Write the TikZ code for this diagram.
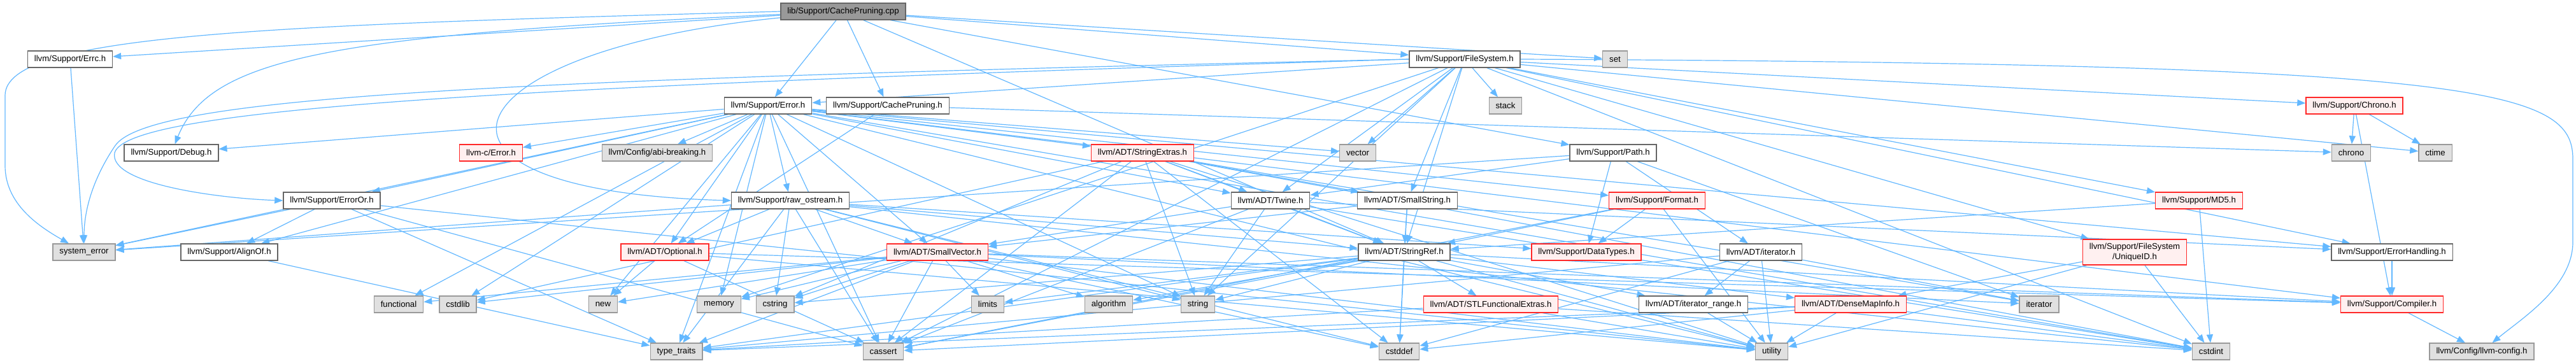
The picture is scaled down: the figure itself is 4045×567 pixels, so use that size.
\documentclass[tikz,border=0pt]{standalone}
\usepackage{fontspec}
\setmainfont{Liberation Sans}
\usepackage{tikz}
\usetikzlibrary{arrows.meta,backgrounds}
\definecolor{depblue}{RGB}{99,184,255}
\definecolor{boxline}{RGB}{102,102,102}
\definecolor{sysline}{RGB}{153,153,153}
\definecolor{sysfill}{RGB}{224,224,224}
\definecolor{redline}{RGB}{255,40,40}
\definecolor{redfill}{RGB}{255,240,240}
\definecolor{rootfill}{RGB}{153,153,153}

\begin{document}
\begin{tikzpicture}[x=0.5pt, y=-0.5pt,
    box/.style={draw=boxline, fill=white, line width=0.65pt, inner xsep=5.2pt,
                inner ysep=0pt, minimum height=13pt, font=\fontsize{6.6}{7.6}\selectfont},
    sysbox/.style={box, draw=sysline, fill=sysfill},
    redbox/.style={box, draw=redline, fill=redfill},
    rootbox/.style={box, fill=rootfill},
    dep/.style={draw=depblue, line width=0.6pt, -{Triangle[length=6.5pt,width=5pt]}}]
  \useasboundingbox (0,0) rectangle (4045,567);

  \node[rootbox] (cpp) at (1324,18) {lib/Support/CachePruning.cpp};

  \node[box] (errc) at (110,93) {llvm/Support/Errc.h};
  \node[box] (filesystem) at (2300,93) {llvm/Support/FileSystem.h};
  \node[sysbox] (set) at (2536,93) {set};

  \node[box] (error) at (1206,166) {llvm/Support/Error.h};
  \node[box] (cpruneh) at (1394,166) {llvm/Support/CachePruning.h};
  \node[sysbox] (stack) at (2364,166) {stack};
  \node[redbox] (chronoh) at (3697,166) {llvm/Support/Chrono.h};

  \node[box] (debug) at (269,240) {llvm/Support/Debug.h};
  \node[redbox] (cerror) at (771,240) {llvm-c/Error.h};
  \node[sysbox] (abibreak) at (1032,240) {llvm/Config/abi-breaking.h};
  \node[redbox] (strextras) at (1794,240) {llvm/ADT/StringExtras.h};
  \node[sysbox] (vector) at (2132,240) {vector};
  \node[box] (path) at (2533,240) {llvm/Support/Path.h};
  \node[sysbox] (chrono) at (3692,240) {chrono};
  \node[sysbox] (ctime) at (3824,240) {ctime};

  \node[box] (erroror) at (521,315) {llvm/Support/ErrorOr.h};
  \node[box] (rawos) at (1241,315) {llvm/Support/raw\_ostream.h};
  \node[box] (twine) at (1995,315) {llvm/ADT/Twine.h};
  \node[box] (smallstr) at (2210,315) {llvm/ADT/SmallString.h};
  \node[redbox] (format) at (2602,315) {llvm/Support/Format.h};
  \node[redbox] (md5) at (3453,315) {llvm/Support/MD5.h};

  \node[sysbox] (syserr) at (132,396) {system\_error};
  \node[box] (alignof) at (360,396) {llvm/Support/AlignOf.h};
  \node[redbox] (optional) at (1044,396) {llvm/ADT/Optional.h};
  \node[redbox] (smallvec) at (1472,396) {llvm/ADT/SmallVector.h};
  \node[box] (strref) at (2205,396) {llvm/ADT/StringRef.h};
  \node[redbox] (datatypes) at (2491,396) {llvm/Support/DataTypes.h};
  \node[box] (iteratorh) at (2765,396) {llvm/ADT/iterator.h};
  \node[redbox, align=center, minimum height=20pt] (uniqueid) at (3352,396) {llvm/Support/FileSystem\\/UniqueID.h};
  \node[box] (errhandling) at (3756,396) {llvm/Support/ErrorHandling.h};

  \node[sysbox] (functional) at (626,478) {functional};
  \node[sysbox] (cstdlib) at (719,478) {cstdlib};
  \node[sysbox] (new) at (947,478) {new};
  \node[sysbox] (memory) at (1129,478) {memory};
  \node[sysbox] (cstring) at (1217,478) {cstring};
  \node[sysbox] (limits) at (1551,478) {limits};
  \node[sysbox] (algorithm) at (1741,478) {algorithm};
  \node[sysbox] (string) at (1881,478) {string};
  \node[redbox] (stlfunc) at (2341,478) {llvm/ADT/STLFunctionalExtras.h};
  \node[box] (iterrange) at (2659,478) {llvm/ADT/iterator\_range.h};
  \node[redbox] (densemap) at (2906,478) {llvm/ADT/DenseMapInfo.h};
  \node[sysbox] (iterator) at (3202,478) {iterator};
  \node[redbox] (compiler) at (3756,478) {llvm/Support/Compiler.h};

  \node[sysbox] (typetraits) at (1062,552) {type\_traits};
  \node[sysbox] (cassert) at (1387,552) {cassert};
  \node[sysbox] (cstddef) at (2197,552) {cstddef};
  \node[sysbox] (utility) at (2782,552) {utility};
  \node[sysbox] (cstdint) at (3472,552) {cstdint};
  \node[sysbox] (llvmconfig) at (3897,552) {llvm/Config/llvm-config.h};

  \begin{scope}[on background layer, every edge/.style={dep}]
    \fill[white] (0,0) rectangle (4045,567);
    \path (cpp) edge (errc) edge (error) edge (cpruneh) edge (filesystem)
                edge (set) edge (path) edge (strref);
    \draw[dep] (cpp.west) .. controls (400,40) and (8,55) .. (8,150)
               -- (8,260) .. controls (8,320) and (60,355) .. (syserr);
    \draw[dep] (cpp) .. controls (520,55) and (330,90) .. (debug);
    \draw[dep] (cpp) .. controls (700,80) and (600,300) .. (rawos.west);
    \path (errc) edge (syserr);
    \path (filesystem) edge (vector) edge (stack) edge (twine) edge (smallstr)
                       edge (strref) edge (error) edge (memory) edge (cassert)
                       edge (string) edge (cstdint) edge (ctime) edge (chronoh)
                       edge (md5) edge (uniqueid) edge (errhandling);
    \draw[dep] (filesystem.west) .. controls (800,125) and (230,150) .. (180,230)
               .. controls (140,290) and (132,340) .. (syserr);
    \draw[dep] (filesystem.west) .. controls (800,135) and (200,170) .. (180,240)
               .. controls (170,290) and (350,312) .. (erroror.west);
    \draw[dep] (filesystem.east) .. controls (3900,100) and (4040,140) .. (4040,250)
               -- (4040,380) .. controls (4040,450) and (3960,500) .. (llvmconfig);
    \path (error) edge (cerror) edge (abibreak) edge (debug) edge (erroror)
                  edge (alignof) edge (rawos) edge (optional) edge (strextras)
                  edge (smallvec) edge (twine) edge (format) edge (errhandling)
                  edge (compiler) edge (syserr) edge (functional) edge (cstdlib)
                  edge (new) edge (memory) edge (string) edge (cassert)
                  edge (cstdint) edge (typetraits) edge (utility) edge (vector);
    \path (cpruneh) edge (optional) edge (chrono);
    \path (erroror) edge (alignof) edge (cassert) edge (syserr) edge (typetraits)
                    edge (utility);
    \path (alignof) edge (typetraits);
    \path (rawos) edge (smallvec) edge (strref) edge (datatypes) edge (optional)
                  edge (cassert) edge (cstddef) edge (cstdint) edge (cstring)
                  edge (string) edge (syserr) edge (typetraits);
    \path (optional) edge (new) edge (cassert) edge (utility) edge (compiler);
    \path (strextras) edge (smallstr) edge (strref) edge (twine) edge (cassert)
                      edge (cstddef) edge (cstdint) edge (cstdlib) edge (cstring)
                      edge (iterator) edge (string) edge (utility);
    \path (smallvec) edge (compiler) edge (algorithm) edge (cassert) edge (cstddef)
                     edge (cstdlib) edge (cstring) edge (functional) edge (iterator)
                     edge (limits) edge (memory) edge (new) edge (typetraits)
                     edge (utility);
    \path (twine) edge (smallvec) edge (strref) edge (errhandling) edge (cassert)
                  edge (cstdint) edge (string);
    \path (path) edge (twine) edge (iteratorh) edge (datatypes) edge (iterator)
                 edge (syserr);
    \path (smallstr) edge (smallvec) edge (strref) edge (cstddef);
    \path (format) edge (strref) edge (datatypes) edge (cassert) edge (utility);
    \path (strref) edge (densemap) edge (stlfunc) edge (iterrange) edge (compiler)
                   edge (algorithm) edge (cassert) edge (cstddef) edge (cstring)
                   edge (limits) edge (string) edge (typetraits) edge (utility);
    \path (stlfunc) edge (cstdint) edge (typetraits) edge (utility);
    \path (iterrange) edge (utility);
    \path (iteratorh) edge (iterrange) edge (cstddef) edge (iterator)
                      edge (typetraits) edge (utility);
    \path (densemap) edge (cassert) edge (cstddef) edge (cstdint) edge (typetraits)
                     edge (utility);
    \path (uniqueid) edge (densemap) edge (cstdint) edge (utility);
    \path (chronoh) edge (compiler) edge (chrono) edge (ctime);
    \path (md5) edge (strref) edge (cstdint);
    \path (errhandling) edge (compiler);
    \path (compiler) edge (llvmconfig);
  \end{scope}
\end{tikzpicture}
\end{document}
